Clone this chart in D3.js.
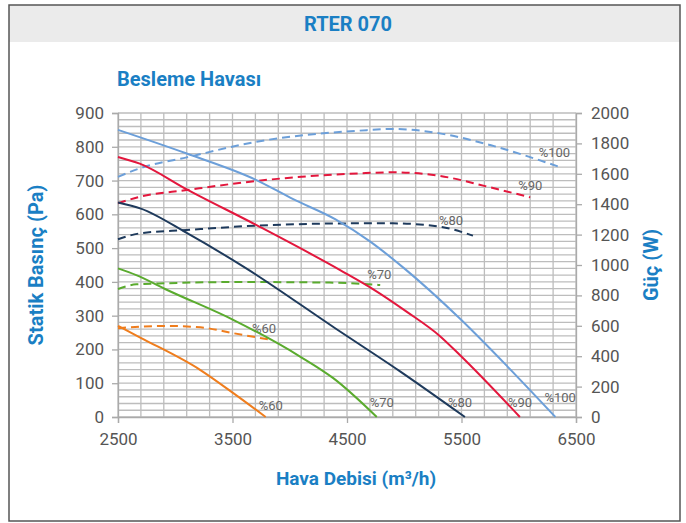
<!DOCTYPE html>
<html>
<head>
<meta charset="utf-8">
<script src="https://cdn.jsdelivr.net/npm/d3@7"></script>
<style>
  body { margin: 0; background: #fff; }
  text { font-family: Roboto, "Noto Sans", sans-serif; }
  .tick-label { fill: #555; font-size: 17px; }
  .blue-title { fill: #1a7fc4; font-weight: bold; }
  .curve-label { fill: #666; font-size: 13px; }
</style>
</head>
<body>
<div id="chart"></div>
<script>
const width = 686, height = 523;

// speed steps
const speeds = ["%60", "%70", "%80", "%90", "%100"];
const colors = ["#ef7d1d", "#5aab2e", "#1e3a5c", "#e3173d", "#6c9fd9"];

// static pressure curves (flow m3/h, Pa)
const flow60 = [2500, 2690, 3220, 3510, 3790];
const pres60 = [270, 236, 139, 70, 0];
const flow70 = [2500, 2660, 2930, 3510, 4090, 4380, 4760];
const pres70 = [440, 420, 376, 287, 179, 115, 0];
const flow80 = [2500, 2700, 3100, 3620, 4400, 4960, 5530];
const pres80 = [635, 617, 545, 440, 262, 136, 0];
const flow90 = [2500, 2690, 3100, 3710, 4440, 4730, 5020, 5310, 5490, 6010];
const pres90 = [770, 750, 674, 568, 435, 378, 312, 240, 182, 0];
const flow100 = [2500, 3100, 3700, 4030, 4400, 4700, 5000, 5490, 5900, 6320];
const pres100 = [850, 780, 703, 645, 585, 520, 440, 290, 150, 0];

// power curves (flow m3/h, W)
const pflow60 = [2500, 2690, 2930, 3220, 3510, 3810];
const power60 = [584, 594, 599, 590, 551, 511];
const pflow70 = [2500, 2660, 2930, 3510, 4380, 4790];
const power70 = [842, 873, 880, 888, 884, 868];
const pflow80 = [2500, 2690, 3100, 3710, 4610, 4900, 5310, 5600];
const power80 = [1169, 1208, 1230, 1259, 1274, 1274, 1252, 1193];
const pflow90 = [2500, 2690, 3100, 3710, 4610, 4900, 5310, 5750, 6100];
const power90 = [1406, 1449, 1493, 1553, 1603, 1610, 1586, 1511, 1445];
const pflow100 = [2500, 2690, 3100, 3710, 4610, 4900, 5310, 5750, 6375];
const power100 = [1580, 1636, 1708, 1811, 1884, 1895, 1866, 1789, 1640];

const xTicks = [2500, 3500, 4500, 5500, 6500];
const yTicks = [0, 100, 200, 300, 400, 500, 600, 700, 800, 900];
const y2Ticks = [0, 200, 400, 600, 800, 1000, 1200, 1400, 1600, 1800, 2000];

const pressureSets = [[flow60, pres60], [flow70, pres70], [flow80, pres80], [flow90, pres90], [flow100, pres100]];
const powerSets = [[pflow60, power60], [pflow70, power70], [pflow80, power80], [pflow90, power90], [pflow100, power100]];

// label offsets from curve end points
const solidOffsets = [[-7, -7], [-7, -10], [-17, -10], [-12, -10], [-11, -15]];
const dashOffsets = [[-16, -6], [-13, -6], [-34, -11], [-12, -7], [-23, -11]];

const margin = { left: 118, right: 110, top: 113, bottom: 106 };
const plotW = width - margin.left - margin.right;
const plotH = height - margin.top - margin.bottom;

const svg = d3.select("#chart").append("svg")
  .attr("width", width)
  .attr("height", height);

// frame and header
svg.append("rect")
  .attr("x", 9).attr("y", 5).attr("width", 671).attr("height", 37)
  .attr("fill", "#ebebeb");
svg.append("rect")
  .attr("x", 9).attr("y", 5).attr("width", 671).attr("height", 516)
  .attr("fill", "none").attr("stroke", "#555").attr("stroke-width", 1.5);

svg.append("text")
  .attr("class", "blue-title")
  .attr("x", 348).attr("y", 31)
  .attr("text-anchor", "middle")
  .style("font-size", "20px")
  .text("RTER 070");

svg.append("text")
  .attr("class", "blue-title")
  .attr("x", 117).attr("y", 86)
  .style("font-size", "20px")
  .text("Besleme Havası");

let x = d3.scaleLinear().domain([2500, 6500]).range([margin.left, margin.left + plotW]);
let y = d3.scaleLinear().domain([0, 900]).range([margin.top + plotH, margin.top]);
let y2 = d3.scaleLinear().domain([0, 2000]).range([margin.top + plotH, margin.top]);

// grid
let grid = svg.append("g").attr("id", "grid");
grid.selectAll("line.v")
  .data(d3.range(2500, 6501, 200))
  .enter().append("line")
  .attr("x1", (d) => x(d)).attr("x2", (d) => x(d))
  .attr("y1", y(0)).attr("y2", y(900))
  .attr("stroke", "#bdbdbd").attr("stroke-width", 1.3);
grid.selectAll("line.h")
  .data(d3.range(0, 901, 20))
  .enter().append("line")
  .attr("x1", x(2500)).attr("x2", x(6500))
  .attr("y1", (d) => y(d)).attr("y2", (d) => y(d))
  .attr("stroke", "#bdbdbd").attr("stroke-width", 1.3);

// axes
let xAxis = svg.append("g")
  .attr("transform", "translate(0," + y(0) + ")")
  .call(d3.axisBottom(x).tickValues(xTicks).tickFormat(d3.format("d")).tickSize(6).tickPadding(10));
let yAxis = svg.append("g")
  .attr("transform", "translate(" + x(2500) + ",0)")
  .call(d3.axisLeft(y).tickValues(yTicks).tickSize(6).tickPadding(8));
let y2Axis = svg.append("g")
  .attr("transform", "translate(" + x(6500) + ",0)")
  .call(d3.axisRight(y2).tickValues(y2Ticks).tickFormat(d3.format("d")).tickSize(6).tickPadding(9));

[xAxis, yAxis, y2Axis].forEach((a) => {
  a.select(".domain").attr("stroke", "#aaa").attr("stroke-width", 1.3);
  a.selectAll(".tick line").attr("stroke", "#aaa").attr("stroke-width", 1.3);
  a.selectAll(".tick text").attr("class", "tick-label").attr("fill", "#555")
    .style("font-size", "17px").style("font-family", "Roboto, sans-serif");
});

// axis titles
svg.append("text")
  .attr("class", "blue-title")
  .attr("transform", "translate(43," + (margin.top + plotH / 2) + ") rotate(-90)")
  .attr("text-anchor", "middle")
  .style("font-size", "20px")
  .text("Statik Basınç (Pa)");

svg.append("text")
  .attr("class", "blue-title")
  .attr("transform", "translate(658," + (margin.top + plotH / 2) + ") rotate(-90)")
  .attr("text-anchor", "middle")
  .style("font-size", "20px")
  .text("Güç  (W)");

svg.append("text")
  .attr("class", "blue-title")
  .attr("x", 356).attr("y", 485)
  .attr("text-anchor", "middle")
  .style("font-size", "19px")
  .text("Hava Debisi (m³/h)");

// curves
let pLine = d3.line().x((d) => x(d[0])).y((d) => y(d[1])).curve(d3.curveMonotoneX);
let wLine = d3.line().x((d) => x(d[0])).y((d) => y2(d[1])).curve(d3.curveMonotoneX);

let curves = svg.append("g").attr("id", "curves");

powerSets.forEach((s, i) => {
  let pts = s[0].map((f, j) => [f, s[1][j]]);
  curves.append("path")
    .attr("d", wLine(pts))
    .attr("fill", "none")
    .attr("stroke", colors[i])
    .attr("stroke-width", 2)
    .attr("stroke-dasharray", "8,5");
  let last = pts[pts.length - 1];
  curves.append("text")
    .attr("class", "curve-label")
    .attr("x", x(last[0]) + dashOffsets[i][0])
    .attr("y", y2(last[1]) + dashOffsets[i][1])
    .text(speeds[i]);
});

pressureSets.forEach((s, i) => {
  let pts = s[0].map((f, j) => [f, s[1][j]]);
  curves.append("path")
    .attr("d", pLine(pts))
    .attr("fill", "none")
    .attr("stroke", colors[i])
    .attr("stroke-width", 2);
  let last = pts[pts.length - 1];
  curves.append("text")
    .attr("class", "curve-label")
    .attr("x", x(last[0]) + solidOffsets[i][0])
    .attr("y", y(last[1]) + solidOffsets[i][1])
    .text(speeds[i]);
});
</script>
</body>
</html>
